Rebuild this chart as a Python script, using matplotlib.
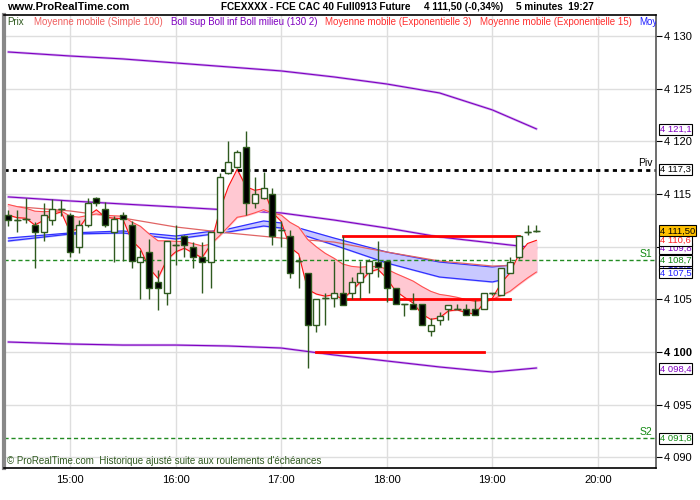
import numpy as np
import matplotlib
matplotlib.use('Agg')
import matplotlib.pyplot as plt
import matplotlib.transforms as mtransforms

plt.rcParams['font.family'] = ['Liberation Sans', 'DejaVu Sans']

# 5 minute candles, 14:25 -> 19:25
start = '14:25'
opens = [4113.0, 4112.5, 4112.6, 4112.1, 4111.4, 4112.5, 4113.6, 4113.0, 4110.0, 4112.1,
         4114.6, 4113.6, 4111.4, 4113.0, 4112.1, 4108.5, 4109.5, 4106.6, 4105.6, 4110.2,
         4111.0, 4110.0, 4109.0, 4108.5, 4111.4, 4117.0, 4117.6, 4119.5, 4114.1, 4114.6,
         4115.0, 4111.6, 4111.0, 4108.6, 4107.5, 4102.6, 4105.1, 4105.1, 4105.6, 4105.6,
         4106.6, 4107.5, 4108.5, 4108.6, 4106.1, 4104.6, 4104.6, 4104.6, 4102.0, 4103.0,
         4104.1, 4104.1, 4104.1, 4104.1, 4104.1, 4105.6, 4105.4, 4107.5, 4109.0, 4111.4,
         4111.5]
highs = [4113.5, 4113.5, 4114.6, 4112.3, 4114.1, 4114.5, 4114.4, 4113.2, 4112.5, 4114.6,
         4114.7, 4114.2, 4112.9, 4113.3, 4112.4, 4109.7, 4110.7, 4107.8, 4110.5, 4112.1,
         4111.1, 4110.4, 4110.4, 4111.4, 4117.0, 4120.0, 4119.2, 4121.0, 4116.6, 4117.1,
         4115.6, 4112.4, 4111.6, 4109.0, 4107.5, 4105.0, 4105.6, 4108.6, 4111.0, 4107.1,
         4108.6, 4108.8, 4110.5, 4108.6, 4106.1, 4104.6, 4105.6, 4104.6, 4103.2, 4103.8,
         4104.5, 4104.6, 4104.6, 4104.9, 4105.6, 4105.6, 4108.0, 4109.0, 4111.0, 4112.1,
         4112.1]
lows = [4112.0, 4111.4, 4112.2, 4108.0, 4110.5, 4112.1, 4112.9, 4109.0, 4109.4, 4111.9,
        4113.9, 4111.9, 4108.5, 4108.6, 4108.0, 4105.0, 4105.0, 4104.0, 4104.5, 4108.3,
        4109.0, 4108.0, 4105.6, 4106.1, 4111.3, 4116.9, 4117.5, 4113.0, 4113.7, 4114.5,
        4110.2, 4110.0, 4107.0, 4106.1, 4098.5, 4101.9, 4102.6, 4104.3, 4104.5, 4105.0,
        4105.0, 4105.6, 4107.1, 4104.7, 4104.6, 4103.4, 4104.1, 4102.6, 4101.5, 4102.6,
        4103.0, 4104.1, 4103.5, 4103.5, 4104.1, 4105.4, 4105.4, 4107.5, 4108.8, 4111.1,
        4111.4]
closes = [4112.5, 4112.5, 4112.6, 4111.4, 4113.0, 4113.6, 4113.6, 4109.5, 4112.1, 4114.1,
          4114.1, 4112.1, 4112.6, 4112.6, 4108.6, 4109.0, 4106.1, 4106.1, 4110.5, 4110.2,
          4110.2, 4109.0, 4108.5, 4111.4, 4116.6, 4118.0, 4119.0, 4114.1, 4115.0, 4115.6,
          4111.0, 4111.6, 4107.5, 4108.6, 4102.6, 4105.0, 4105.1, 4105.6, 4104.5, 4106.6,
          4107.5, 4108.6, 4108.1, 4106.1, 4104.6, 4104.6, 4104.1, 4102.6, 4102.6, 4103.4,
          4104.5, 4104.1, 4103.5, 4103.5, 4105.6, 4105.6, 4108.0, 4108.5, 4111.0, 4111.4,
          4111.5]

# exponential averages
ema3 = [4113.0, 4112.75, 4112.7, 4112.05, 4112.5, 4113.05, 4113.3, 4111.4, 4111.75, 4112.9,
        4113.5, 4112.8, 4112.7, 4112.65, 4110.6, 4109.8, 4107.95, 4107.0, 4108.75, 4109.5,
        4109.85, 4109.4, 4108.95, 4110.2, 4113.4, 4115.7, 4117.35, 4115.7, 4115.35, 4115.5,
        4113.25, 4112.4, 4109.95, 4109.3, 4105.95, 4105.5, 4105.3, 4105.45, 4105.0, 4105.8,
        4106.65, 4107.6, 4107.85, 4107.0, 4105.8, 4105.2, 4104.65, 4103.6, 4103.1, 4103.25,
        4103.9, 4104.0, 4103.75, 4103.6, 4104.6, 4105.1, 4106.55, 4107.5, 4109.25, 4110.3,
        4110.6]
ema15 = [4114.0, 4113.8, 4113.65, 4113.37, 4113.32, 4113.36, 4113.39, 4112.9, 4112.8, 4112.96,
         4113.1, 4112.98, 4112.93, 4112.89, 4112.35, 4111.93, 4111.2, 4110.56, 4110.55, 4110.51,
         4110.47, 4110.29, 4110.07, 4110.24, 4111.03, 4111.9, 4112.79, 4112.95, 4113.21, 4113.51,
         4113.2, 4113.0, 4112.31, 4111.85, 4110.69, 4109.98, 4109.37, 4108.9, 4108.35, 4108.13,
         4108.05, 4108.12, 4108.12, 4107.87, 4107.46, 4107.1, 4106.73, 4106.21, 4105.76, 4105.47,
         4105.35, 4105.19, 4104.98, 4104.8, 4104.9, 4104.99, 4105.37, 4105.76, 4106.41, 4107.03,
         4107.59]

# slow lines, read at a few times
slow_times = ['14:25', '15:00', '15:30', '16:00', '16:30', '17:00', '17:30', '18:00', '18:30', '19:00', '19:25']
boll_sup = [4128.48, 4128.10, 4127.82, 4127.44, 4127.06, 4126.68, 4126.11, 4125.44, 4124.59, 4122.98, 4121.18]
boll_mid = [4114.72, 4114.34, 4114.05, 4113.77, 4113.48, 4113.20, 4112.53, 4111.77, 4110.92, 4110.35, 4109.87]
boll_inf = [4100.95, 4100.76, 4100.66, 4100.66, 4100.57, 4100.38, 4099.72, 4099.15, 4098.58, 4098.10, 4098.48]
sma100 = [4113.86, 4113.39, 4112.72, 4111.87, 4111.30, 4110.82, 4110.44, 4109.49, 4108.64, 4108.16, 4108.26]

blue_times = ['14:25', '15:00', '15:30', '16:00', '16:30', '16:50', '17:00', '17:30', '18:00', '18:30', '19:00', '19:25']
blue_up = [4110.82, 4111.30, 4111.49, 4111.01, 4111.68, 4112.44, 4112.25, 4110.82, 4109.49, 4108.54, 4108.07, 4108.54]
blue_lo = [4110.54, 4111.20, 4111.30, 4110.73, 4111.39, 4111.96, 4111.77, 4110.16, 4108.45, 4107.12, 4106.65, 4107.60]

pivot, s1, s2 = 4117.3, 4108.7, 4091.8

# drawn segments (start, end, level)
red_segments = [('17:35', '19:15', 4111.0), ('17:35', '19:10', 4105.0), ('17:20', '18:55', 4100.0)]

# price boxes on the right (drawn in this order)
right_boxes = [(4121.1, '4 121,1', '#8000c0'), (4117.3, '4 117,3', 'black'),
               (4098.4, '4 098,4', '#8000c0'), (4091.8, '4 091,8', '#118811'),
               (4108.2, '4 108,5', '#2020ff'), (4107.5, '4 107,5', '#2020ff'),
               (4108.7, '4 108,7', '#118811'), (4109.8, '4 109,8', '#8000c0'),
               (4110.6, '4 110,6', '#ff2020')]


def tmin(s):
    h, m = s.split(':')
    return int(h) * 60 + int(m)


t0 = tmin(start)
x = np.array([t0 + 5 * i for i in range(len(closes))])
o = np.array(opens); h = np.array(highs); l = np.array(lows); c = np.array(closes)
xs = [tmin(t) for t in slow_times]
xb = [tmin(t) for t in blue_times]

fig = plt.figure(figsize=(7, 5), dpi=100)
ax = fig.add_axes([4 / 700, 32 / 500, 652 / 700, 453 / 500])
ax.set_xlim(862.5, 1233)
ax.set_ylim(4088.99, 4131.99)

# grid
for v in range(4090, 4131, 5):
    ax.axhline(v, color='#dedede', lw=1, zorder=0)
for hr in range(15, 21):
    ax.axvline(hr * 60, color='#dedede', lw=1, zorder=0)

# bollinger
for arr in (boll_sup, boll_mid, boll_inf):
    ax.plot(xs, arr, color='#d2b0f0', lw=1.8, zorder=1)
    ax.plot(xs, arr, color='#8000c0', lw=0.8, zorder=1.1)

# blue band
ax.fill_between(xb, blue_lo, blue_up, color='#c8c8ff', zorder=1.2)
ax.plot(xb, blue_up, color='#3030ff', lw=0.9, zorder=1.3)
ax.plot(xb, blue_lo, color='#3030ff', lw=0.9, zorder=1.3)

# sma 100
ax.plot(xs, sma100, color='#e06464', lw=0.9, zorder=1.4)

# ema 3 / 15 with pink fill
ax.fill_between(x, ema3, ema15, color='#ffc8d2', zorder=1.5)
ax.plot(x, ema15, color='#ff5050', lw=0.8, zorder=1.6)
ax.plot(x, ema3, color='#ff1010', lw=0.8, zorder=1.7)

# levels
ax.axhline(pivot, color='black', lw=2, ls=(0, (1.5, 1.5)), zorder=2)
ax.axhline(s1, color='#228b22', lw=1, ls=(0, (3, 2)), zorder=2)
ax.axhline(s2, color='#228b22', lw=1, ls=(0, (3, 2)), zorder=2)
ax.text(1231, pivot + 0.15, 'Piv', fontsize=7.5, ha='right', va='bottom', color='black')
ax.text(1231, s1 + 0.15, 'S1', fontsize=7.5, ha='right', va='bottom', color='#118811')
ax.text(1231, s2 + 0.15, 'S2', fontsize=7.5, ha='right', va='bottom', color='#118811')

for a, b, lev in red_segments:
    ax.plot([tmin(a), tmin(b)], [lev, lev], color='#ff0000', lw=2, zorder=2.5)

# candles
edge = '#2f5a1f'
ax.vlines(x, l, h, color=edge, lw=1, zorder=3)
up = c >= o
bot = np.minimum(o, c)
hgt = np.abs(c - o)
ax.bar(x[up], hgt[up], bottom=bot[up], width=3.4, color='white', edgecolor=edge, lw=1, zorder=4)
ax.bar(x[~up], hgt[~up], bottom=bot[~up], width=3.4, color='black', edgecolor=edge, lw=1, zorder=4)
doji = hgt < 0.05
ax.hlines(c[doji], x[doji] - 2, x[doji] + 2, color=edge, lw=1, zorder=4)

# axes styling
ax.yaxis.tick_right()
ax.set_yticks(range(4090, 4131, 5))
ax.set_yticklabels(['4 %03d' % (v - 4000) for v in range(4090, 4131, 5)], fontsize=8)
for lab in ax.get_yticklabels():
    if lab.get_text() == '4 100':
        lab.set_fontweight('bold')
ax.set_xticks([hr * 60 for hr in range(15, 21)])
ax.set_xticklabels(['%d:00' % hr for hr in range(15, 21)], fontsize=8)
ax.tick_params(axis='y', length=4, pad=2, colors='black')
ax.tick_params(axis='x', length=0, pad=5)
ax.spines['left'].set_color('#888888')
ax.spines['left'].set_linewidth(3)
ax.spines['right'].set_color('#555555')
ax.spines['right'].set_linewidth(1.2)
ax.spines['top'].set_linewidth(1.2)
ax.spines['bottom'].set_linewidth(1.2)

# right price boxes
trans = mtransforms.blended_transform_factory(ax.transAxes, ax.transData)
for val, txt, col in right_boxes:
    ax.text(1.006, val, txt, transform=trans, fontsize=6.8, color=col, va='center', ha='left',
            bbox=dict(boxstyle='square,pad=0.1', fc='white', ec='black', lw=0.8), clip_on=False, zorder=10)
ax.text(1.006, closes[-1], '4 111,50', transform=trans, fontsize=6.8, color='black', va='center', ha='left',
        bbox=dict(boxstyle='square,pad=0.1', fc='#ffc000', ec='black', lw=0.8), clip_on=False, zorder=11)

# legend row
legend_items = [(7, 'Prix', '#2f5a1f'), (34, 'Moyenne mobile (Simple 100)', '#f06060'),
                (171, 'Boll sup Boll inf Boll milieu (130 2)', '#8000c0'),
                (325, 'Moyenne mobile (Exponentielle 3)', '#ff3030'),
                (480, 'Moyenne mobile (Exponentielle 15)', '#ff3030'),
                (639, 'Moy', '#2020ff')]
for px, txt, col in legend_items:
    ax.text((px - 4) / 652, 1 - 7 / 453, txt, transform=ax.transAxes, fontsize=7, color=col,
            va='center', ha='left', clip_on=True, zorder=12)

ax.text(3 / 652, 0.004, '\u00a9 ProRealTime.com  Historique ajusté suite aux roulements d\'échéances',
        transform=ax.transAxes, fontsize=7, color='#2f5a1f', va='bottom', ha='left', zorder=12)

# header
fig.text(7 / 700, 1 - 7 / 500, 'www.ProRealTime.com', fontsize=8, fontweight='bold', va='center', ha='left')
header = [(221, 'FCEXXXX - FCE CAC 40 Full0913 Future'), (424, '4 111,50 (-0,34%)'), (516, '5 minutes  19:27')]
for px, txt in header:
    fig.text(px / 700, 1 - 7 / 500, txt, fontsize=7.2, fontweight='bold', va='center', ha='left')

fig.savefig('out.png', dpi=100)
